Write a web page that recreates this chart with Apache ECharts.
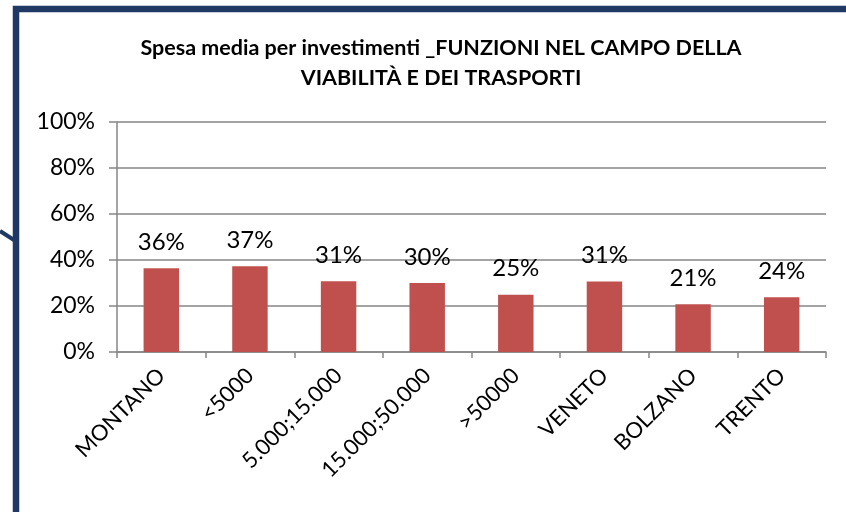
<!DOCTYPE html>
<html>
<head>
<meta charset="utf-8">
<script src="https://cdn.jsdelivr.net/npm/echarts@6/dist/echarts.min.js"></script>
<style>
  html, body { margin: 0; padding: 0; background: #fff; }
  #chart { width: 846px; height: 512px; }
</style>
</head>
<body>
<div id="chart"></div>
<script>
const categories = ['MONTANO', '<5000', '5.000;15.000', '15.000;50.000', '>50000', 'VENETO', 'BOLZANO', 'TRENTO'];
const values = [0.364, 0.373, 0.308, 0.300, 0.249, 0.306, 0.208, 0.238];
const yTicks = [0, 0.2, 0.4, 0.6, 0.8, 1];
const titleText = 'Spesa media per investimenti _FUNZIONI NEL CAMPO DELLA\nVIABILITÀ E DEI TRASPORTI';

const chart = echarts.init(document.getElementById('chart'));
const pct = (v) => Math.round(v * 100) + '%';
const font = 'Lato, "Open Sans", sans-serif';

chart.setOption({
  animation: false,
  title: {
    text: titleText,
    left: 436,
    top: 28,
    textAlign: 'center',
    textStyle: {
      fontFamily: font,
      fontWeight: 'bold',
      fontSize: 21.5,
      lineHeight: 30,
      color: '#000'
    }
  },
  grid: { left: 117, right: 20, top: 122, bottom: 160 },
  xAxis: {
    type: 'category',
    data: categories,
    axisLine: { lineStyle: { color: '#868686', width: 1.5 } },
    axisTick: { show: true, length: 6, lineStyle: { color: '#868686', width: 1.5 } },
    axisLabel: {
      rotate: 45,
      margin: 20,
      fontFamily: font,
      fontSize: 22,
      color: '#000'
    }
  },
  yAxis: {
    type: 'value',
    min: yTicks[0],
    max: yTicks[yTicks.length - 1],
    interval: 0.2,
    axisLine: { show: true, lineStyle: { color: '#868686', width: 1.5 } },
    axisTick: { show: true, length: 8, lineStyle: { color: '#868686', width: 1.5 } },
    splitLine: { lineStyle: { color: '#868686', width: 1.5 } },
    axisLabel: {
      formatter: pct,
      margin: 22,
      fontFamily: font,
      fontSize: 23,
      color: '#000'
    }
  },
  series: [{
    type: 'bar',
    data: values,
    barWidth: '40%',
    itemStyle: { color: '#C0504D' },
    label: {
      show: true,
      position: 'top',
      distance: 14,
      formatter: (p) => pct(p.value),
      fontFamily: font,
      fontSize: 24,
      color: '#000'
    }
  }],
  graphic: [
    {
      type: 'rect',
      shape: { x: 16, y: 9, width: 900, height: 600 },
      style: { fill: 'none', stroke: '#1F3864', lineWidth: 6.5 },
      z: 100
    },
    {
      type: 'line',
      shape: { x1: 0, y1: 231, x2: 14, y2: 240 },
      style: { stroke: '#1F3864', lineWidth: 4 },
      z: 100
    }
  ]
});
</script>
</body>
</html>
